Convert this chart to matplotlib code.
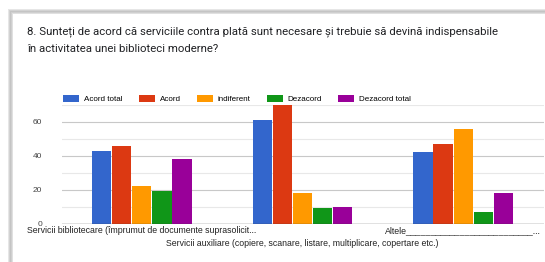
import numpy as np
import matplotlib.pyplot as plt
from matplotlib.patches import Rectangle, Patch

# survey data
categories = ["Servicii bibliotecare (împrumut de documente suprasolicit...",
              "Servicii auxiliare (copiere, scanare, listare, multiplicare, copertare etc.)",
              "Altele" + "_" * 26 + "..."]
series = ["Acord total", "Acord", "indiferent", "Dezacord", "Dezacord total"]
acord_total = [43, 61, 42]
acord = [46, 70, 47]
indiferent = [22, 18, 56]
dezacord = [19, 9, 7]
dezacord_total = [38, 10, 18]
colors = ["#3366cc", "#dc3912", "#ff9900", "#109618", "#990099"]

title = ("8. Sunteți de acord că serviciile contra plată sunt necesare și trebuie să devină indispensabile\n"
         "în activitatea unei biblioteci moderne?")

W, H = 545, 262
fig = plt.figure(figsize=(W / 100, H / 100), dpi=100)

# card with shadow on top/left
def px(x, y):
    return x / W, 1 - y / H

for i, c in enumerate(["#e6e6e6", "#d2d2d2", "#c4c4c4", "#cfcfcf", "#e0e0e0"]):
    x0, y0 = px(8 + i, 9 + i)
    fig.add_artist(Rectangle((x0, 0), 1 - x0, y0, transform=fig.transFigure,
                             facecolor=c, edgecolor="none", zorder=-10))
x0, y0 = px(13, 14)
fig.add_artist(Rectangle((x0, 0), 1 - x0, y0, transform=fig.transFigure,
                         facecolor="white", edgecolor="none", zorder=-9))

fig.text(27 / W, 1 - 26 / H, title, ha="left", va="top", fontsize=8.2,
         family="Roboto", color="#202124", linespacing=1.95)

# axes: x from 61 to 543 px, y zero at 223.5, 70 at 105
ax = fig.add_axes([61.5 / W, 38.5 / H, 482 / W, 118.5 / H])
ax.set_facecolor("none")
ax.set_zorder(2)

values = [acord_total, acord, indiferent, dezacord, dezacord_total]
x = np.arange(len(categories))
bw = 0.125
for i, (name, vals) in enumerate(zip(series, values)):
    ax.bar(x + (i - 2) * bw, vals, width=bw * 0.96, color=colors[i], label=name, zorder=3)

ax.set_xlim(-0.5, 2.5)
ax.set_ylim(0, 70)
ax.set_yticks([0, 20, 40, 60])
ax.set_yticks(np.arange(10, 71, 20), minor=True)
ax.grid(axis="y", which="major", color="#c8c8c8", lw=0.8, zorder=0)
ax.grid(axis="y", which="minor", color="#e8e8e8", lw=0.8, zorder=0)
ax.axhline(0, color="#333333", lw=0.9, zorder=4)
for s in ax.spines.values():
    s.set_visible(False)
ax.tick_params(axis="y", which="both", length=0, pad=14, labelsize=6.0, labelcolor="#444444")
ax.tick_params(axis="x", length=0)
ax.set_xticks([])
for lbl in ax.get_yticklabels():
    lbl.set_family("Liberation Sans")

# staggered category labels
rows = [-0.06, -0.165, -0.06]
for xi, (lab, r) in enumerate(zip(categories, rows)):
    ax.text(xi, r, lab, transform=ax.get_xaxis_transform(), ha="center", va="center",
            fontsize=6.3, family="Liberation Sans", color="#222222")

handles = [Patch(facecolor=c, label=n) for c, n in zip(colors, series)]
leg = fig.legend(handles=handles, loc="center left", bbox_to_anchor=(56 / W, 1 - 99 / H), ncol=5,
                 frameon=False, prop={"family": "Liberation Sans", "size": 5.8},
                 handlelength=2.0, handleheight=0.9, handletextpad=0.6, columnspacing=2.0)
leg.set_zorder(5)

fig.savefig("out.png", dpi=100)
